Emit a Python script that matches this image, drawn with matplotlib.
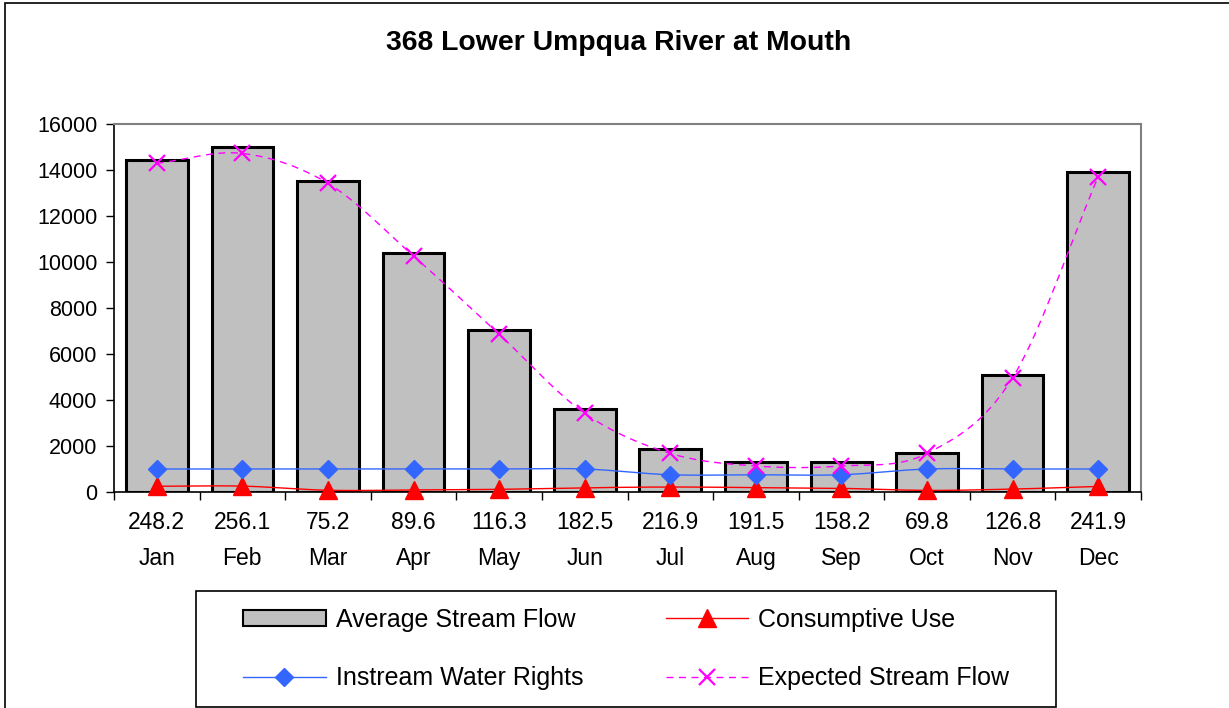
import numpy as np
import matplotlib
matplotlib.use("Agg")
import matplotlib.pyplot as plt
from matplotlib.lines import Line2D
from matplotlib.patches import Rectangle, Patch

plt.rcParams['font.family'] = ['Liberation Sans', 'DejaVu Sans']

months = ["Jan", "Feb", "Mar", "Apr", "May", "Jun", "Jul", "Aug", "Sep", "Oct", "Nov", "Dec"]
consumptive_use = [248.2, 256.1, 75.2, 89.6, 116.3, 182.5, 216.9, 191.5, 158.2, 69.8, 126.8, 241.9]
average_flow = [14450, 15000, 13520, 10380, 7040, 3600, 1850, 1300, 1300, 1680, 5090, 13900]
expected_flow = [14290, 14720, 13420, 10260, 6860, 3420, 1680, 1130, 1130, 1680, 4970, 13710]
instream_rights = [1000, 1000, 1000, 1000, 1000, 1000, 750, 750, 750, 1000, 1000, 1000]
tick_labels = [f"{c}\n{m}" for c, m in zip(consumptive_use, months)]

W, H = 1229, 708
fig = plt.figure(figsize=(W / 100, H / 100), dpi=100)

# chart-area border (left/top visible)
fig.patches.append(Rectangle((5 / W, -0.1), 1.2, 1 - 3 / H + 0.1, transform=fig.transFigure,
                             fill=False, edgecolor='black', linewidth=1.2))

ax = fig.add_axes([114 / W, (H - 492) / H, (1141 - 114) / W, (492 - 124) / H])
x = np.arange(len(months))


def smooth(xs, ys, n=20):
    xs = np.asarray(xs, float)
    ys = np.asarray(ys, float)
    px = np.concatenate([[2 * xs[0] - xs[1]], xs, [2 * xs[-1] - xs[-2]]])
    py = np.concatenate([[2 * ys[0] - ys[1]], ys, [2 * ys[-1] - ys[-2]]])
    ox, oy = [], []
    for i in range(1, len(px) - 2):
        t = np.linspace(0, 1, n, endpoint=False)
        for arr, out in ((px, ox), (py, oy)):
            p0, p1, p2, p3 = arr[i - 1], arr[i], arr[i + 1], arr[i + 2]
            out.extend(0.5 * ((2 * p1) + (-p0 + p2) * t + (2 * p0 - 5 * p1 + 4 * p2 - p3) * t ** 2
                              + (-p0 + 3 * p1 - 3 * p2 + p3) * t ** 3))
    ox.append(xs[-1])
    oy.append(ys[-1])
    return np.array(ox), np.array(oy)


ax.bar(x, average_flow, width=0.72, color='#c0c0c0', edgecolor='black', linewidth=2.2, zorder=2)

sx, sy = smooth(x, consumptive_use)
ax.plot(sx, sy, color='#ff0000', linewidth=1, zorder=3)
ax.plot(x, consumptive_use, linestyle='none', marker='^', color='#ff0000', markersize=13, zorder=4, clip_on=False)

sx, sy = smooth(x, instream_rights)
ax.plot(sx, sy, color='#3366ff', linewidth=1, zorder=3)
ax.plot(x, instream_rights, linestyle='none', marker='D', color='#3366ff', markersize=9, zorder=4)

sx, sy = smooth(x, expected_flow)
ax.plot(sx, sy, color='#ff00ff', linewidth=1, linestyle=(0, (5, 4)), zorder=3)
ax.plot(x, expected_flow, linestyle='none', marker='x', color='#ff00ff', markersize=12,
        markeredgewidth=1.6, zorder=4)

ax.set_xlim(-0.5, 11.5)
ax.set_ylim(0, 16000)
ax.set_yticks(np.arange(0, 16001, 2000))
ax.tick_params(axis='y', labelsize=15.5, direction='out', length=6, width=1, pad=6)

ax.set_xticks(x)
ax.set_xticklabels(tick_labels, fontsize=16.5, linespacing=1.72)
ax.tick_params(axis='x', length=0, pad=14)
ax.set_xticks(np.arange(-0.5, 12, 1), minor=True)
ax.tick_params(axis='x', which='minor', direction='out', length=6, width=1)

for side in ('top', 'right'):
    ax.spines[side].set_color('#808080')
    ax.spines[side].set_linewidth(1.5)
for side in ('left', 'bottom'):
    ax.spines[side].set_color('black')
    ax.spines[side].set_linewidth(1.2)

fig.text(619 / W, 1 - 43 / H, "368 Lower Umpqua River at Mouth", fontsize=20.4, fontweight='bold',
         ha='center', va='center')

# legend frame
lx0, lx1, ly0, ly1 = 196, 1056, 591, 707
fig.patches.append(Rectangle((lx0 / W, 1 - ly1 / H), (lx1 - lx0) / W, (ly1 - ly0) / H,
                             transform=fig.transFigure, fill=False, edgecolor='black', linewidth=1.2))

handles = [
    Patch(facecolor='#c0c0c0', edgecolor='black', linewidth=1.5, label='Average Stream Flow'),
    Line2D([], [], color='#3366ff', linewidth=1, marker='D', markersize=9, label='Instream Water Rights'),
    Line2D([], [], color='#ff0000', linewidth=1, marker='^', markersize=13, label='Consumptive Use'),
    Line2D([], [], color='#ff00ff', linewidth=1, linestyle=(0, (5, 4)), marker='x', markersize=12,
           markeredgewidth=1.6, label='Expected Stream Flow'),
]
leg = fig.legend(handles=handles, ncol=2, loc='center',
                 bbox_to_anchor=((lx0 + lx1) / 2 / W, 1 - (ly0 + ly1) / 2 / H),
                 fontsize=18, frameon=False,
                 handlelength=3.3, handleheight=0.6, columnspacing=3.3, labelspacing=1.4,
                 borderpad=0.3, handletextpad=0.4, borderaxespad=0)

fig.savefig("out.png", dpi=100)
